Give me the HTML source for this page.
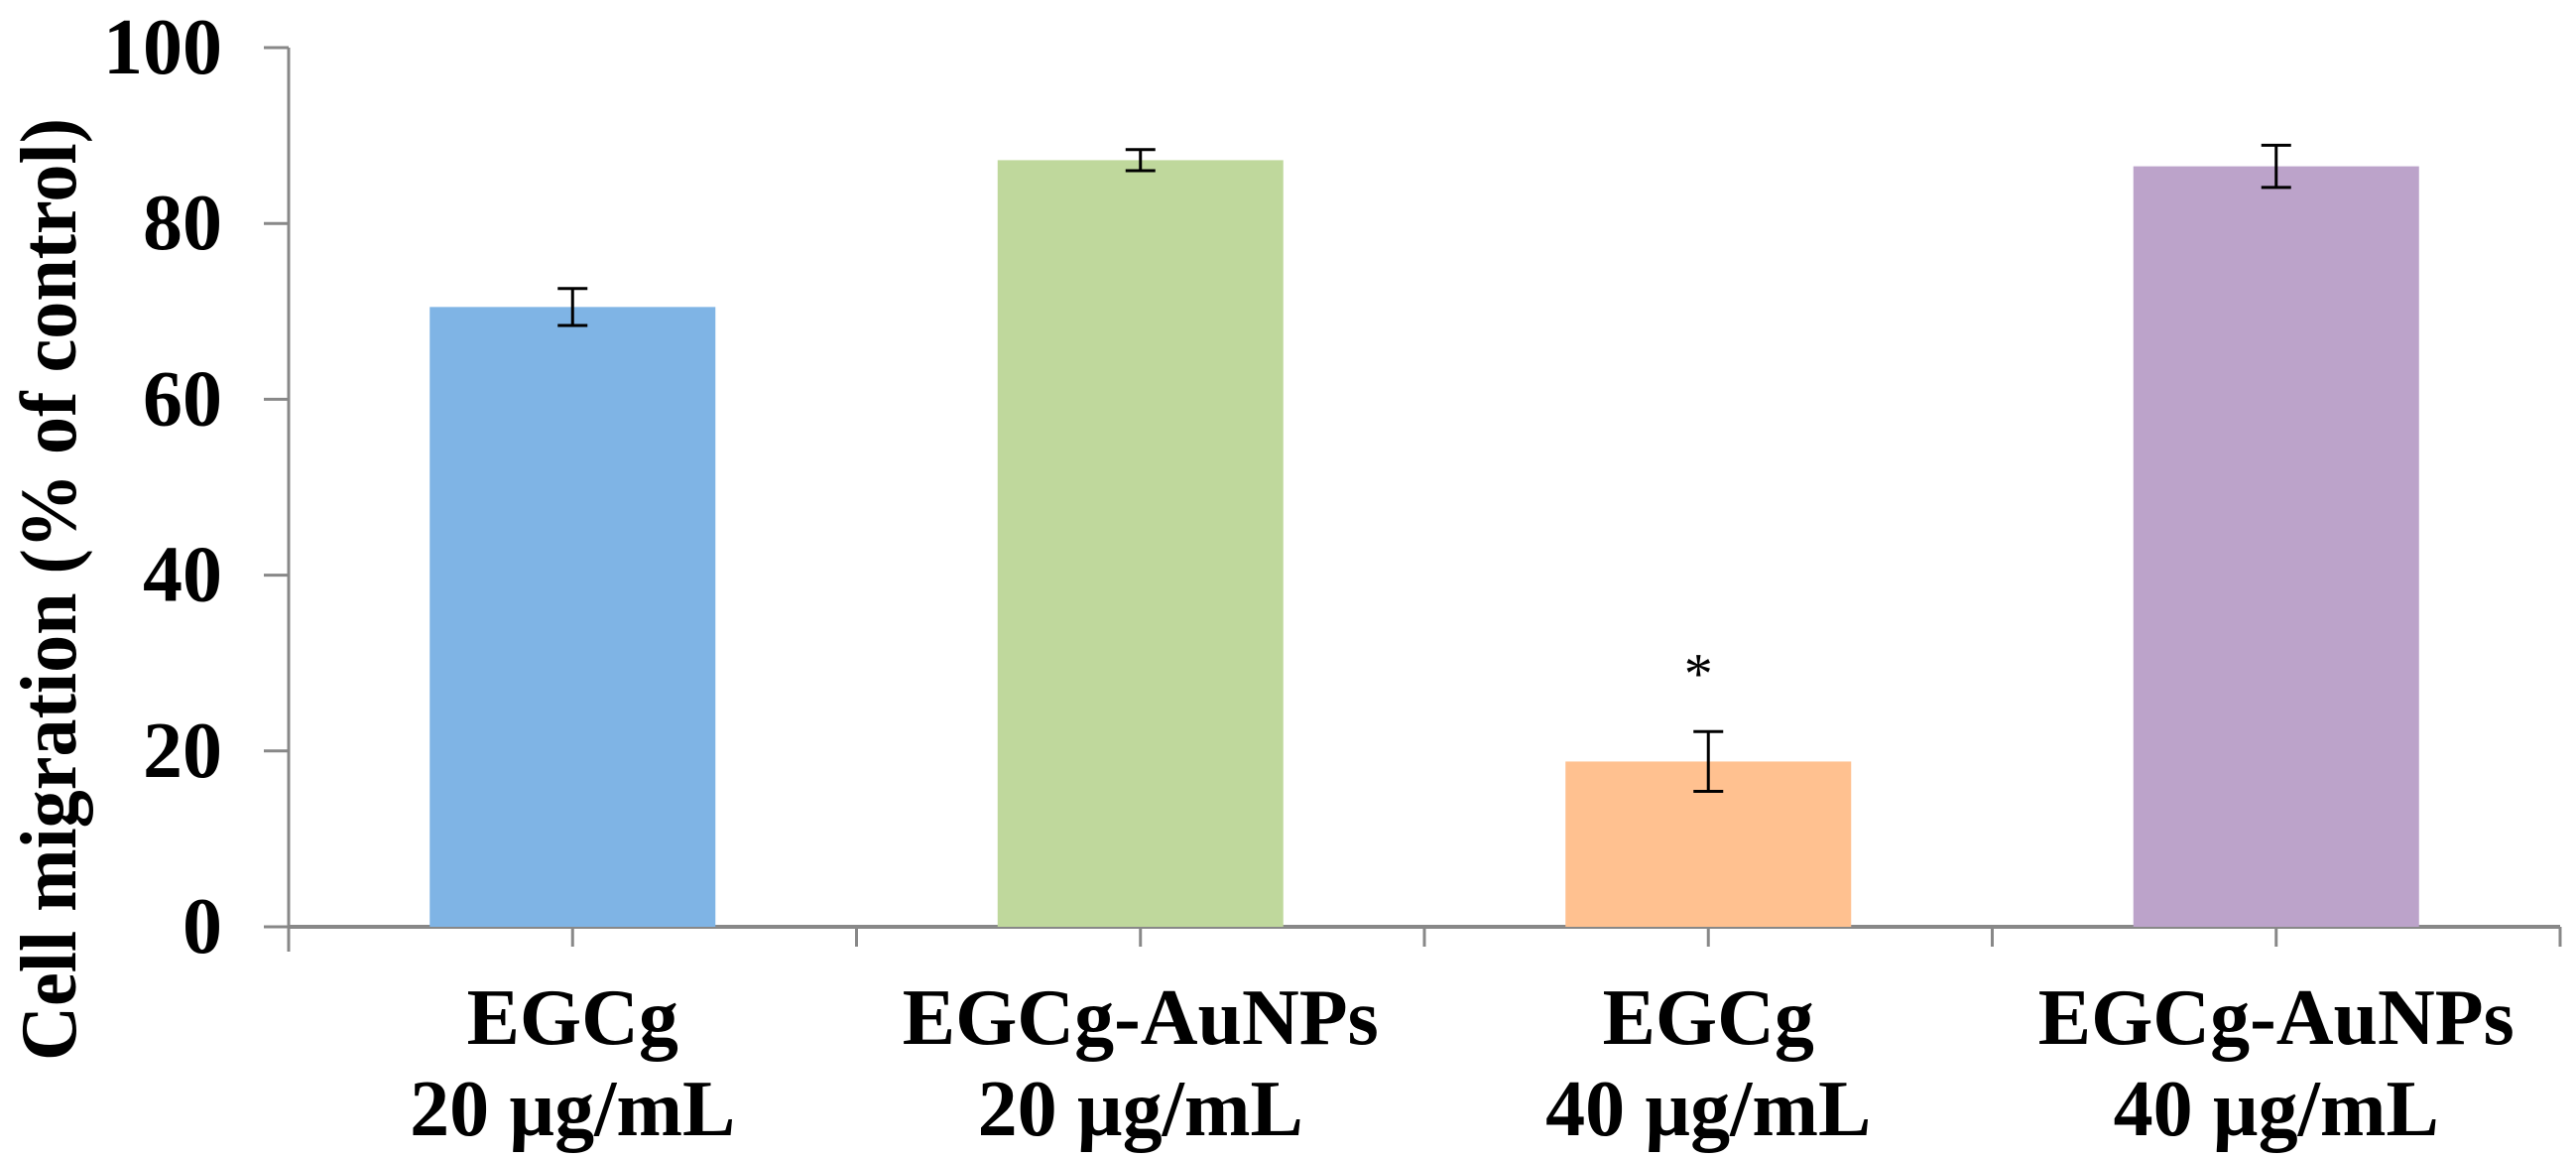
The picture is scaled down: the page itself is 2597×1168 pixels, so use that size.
<!DOCTYPE html>
<html><head><meta charset="utf-8"><style>
html,body{margin:0;padding:0;background:#fff;}
svg{display:block;font-family:"Liberation Serif",serif;font-weight:bold;}
</style></head><body>
<svg id="chart" width="2597" height="1168" viewBox="0 0 2597 1168" xmlns="http://www.w3.org/2000/svg">
<text x="0" y="0" transform="translate(76,594) rotate(-90)" text-anchor="middle" font-size="80" textLength="950" lengthAdjust="spacingAndGlyphs">Cell migration (% of control)</text>
<g id="axes"></g>
<g id="bars"></g>
<g id="labels"></g>
</svg>
<script>
const categoriesLine1 = ["EGCg", "EGCg-AuNPs", "EGCg", "EGCg-AuNPs"];
const categoriesLine2 = ["20 µg/mL", "20 µg/mL", "40 µg/mL", "40 µg/mL"];
const values = [70.5, 87.2, 18.8, 86.5];
const errors = [2.1, 1.2, 3.4, 2.4];
const significance = ["", "", "*", ""];
const yTicks = [0, 20, 40, 60, 80, 100];
const colors = ["#7FB4E5", "#BFD89C", "#FFC190", "#BCA3CA"];

const NS = "http://www.w3.org/2000/svg";
const X0 = 291, X1 = 2581, Y0 = 934, Y100 = 48;
const catW = (X1 - X0) / categoriesLine1.length;
const barW = 288;
function y(v){ return Y0 - (v / 100) * (Y0 - Y100); }
function xc(i){ return X0 + catW * (i + 0.5); }
function mk(tag, attrs, parent){
  const e = document.createElementNS(NS, tag);
  for (const k in attrs) e.setAttribute(k, attrs[k]);
  parent.appendChild(e);
  return e;
}
const axes = document.getElementById("axes");
const barsG = document.getElementById("bars");
const labelsG = document.getElementById("labels");

values.forEach((v, i) => {
  const r = mk("rect", {x: xc(i) - barW/2, y: y(v), width: barW, height: Y0 - y(v), fill: colors[i]}, barsG);
  
  
  const g = mk("g", {stroke: "#000", "stroke-width": 3}, barsG);
  
  
  const top = y(v + errors[i]), bot = y(v - errors[i]), cx = xc(i);
  mk("line", {x1: cx, x2: cx, y1: top, y2: bot}, g);
  mk("line", {x1: cx - 15, x2: cx + 15, y1: top, y2: top}, g);
  mk("line", {x1: cx - 15, x2: cx + 15, y1: bot, y2: bot}, g);
  if (significance[i]) {
    const s = mk("text", {x: cx - 10, y: top - 39, "text-anchor": "middle", "font-size": 58, "font-weight": "normal"}, barsG);
    s.textContent = significance[i];
    
    
  }
  const t = mk("text", {x: cx, y: 1052, "text-anchor": "middle", "font-size": 80}, labelsG);
  t.textContent = categoriesLine1[i];
  
  
  const t2 = mk("text", {x: cx, y: 1144, "text-anchor": "middle", "font-size": 80}, labelsG);
  t2.textContent = categoriesLine2[i];
  
  
});

const ya = mk("line", {x1: X0, x2: X0, y1: Y100, y2: Y0 + 25, stroke: "#888", "stroke-width": 3}, axes);


yTicks.forEach(v => {
  const tk = mk("line", {x1: 266, x2: X0, y1: y(v), y2: y(v), stroke: "#888", "stroke-width": 3}, axes);
  
  
  const tl = mk("text", {x: 224, y: y(v) + 26, "text-anchor": "end", "font-size": 80}, axes);
  tl.textContent = v;
  
  
});
const xa = mk("line", {x1: X0, x2: X1, y1: Y0, y2: Y0, stroke: "#888", "stroke-width": 4}, axes);


for (let k = 0; k <= categoriesLine1.length * 2; k++) {
  const xx = X0 + k * catW / 2;
  const tk = mk("line", {x1: xx, x2: xx, y1: Y0, y2: Y0 + 20, stroke: "#888", "stroke-width": 3}, axes);
  
  
}
</script>
</body></html>
